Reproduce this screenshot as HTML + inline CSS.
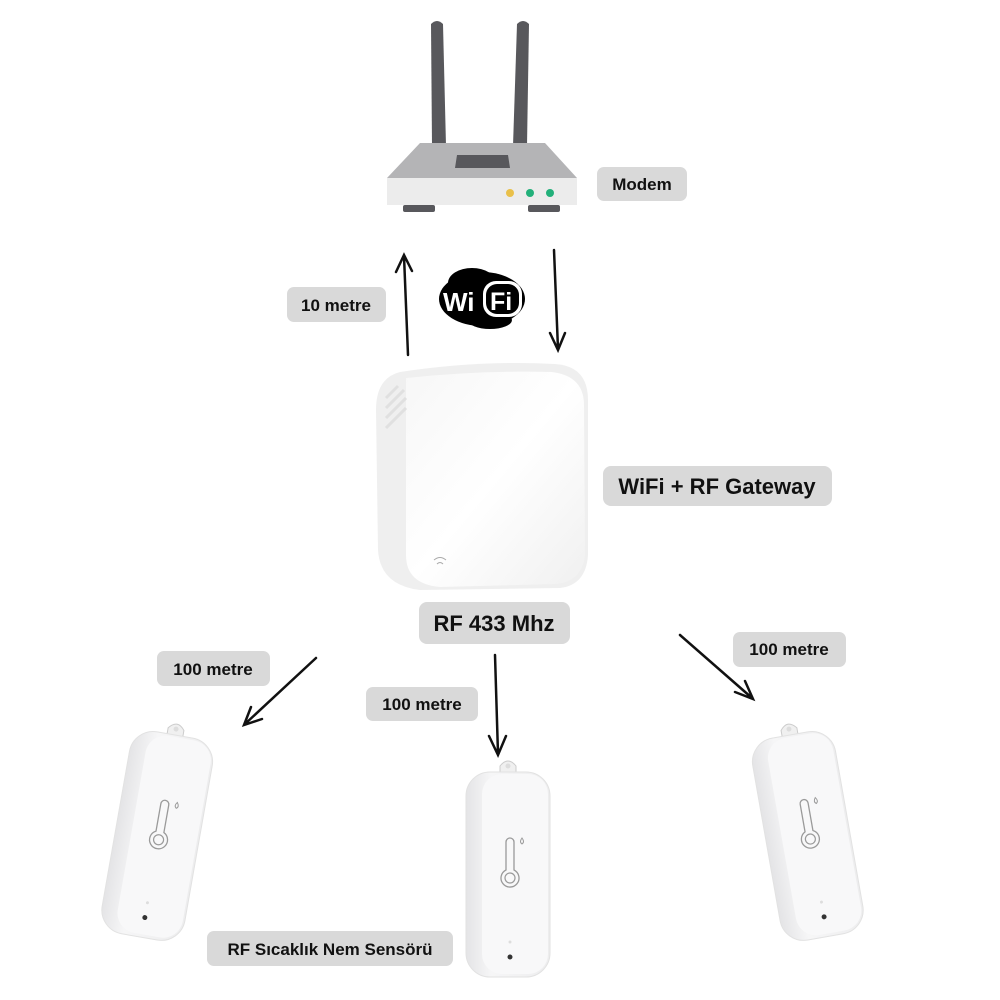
<!DOCTYPE html>
<html><head><meta charset="utf-8"><style>
body{margin:0;background:#fff;}
svg{display:block}
.lb{fill:#d9d9d9}
text{font-family:"Liberation Sans",sans-serif;font-weight:bold;fill:#111}
</style></head><body>
<svg width="1000" height="1000" viewBox="0 0 1000 1000" xmlns="http://www.w3.org/2000/svg">
<defs>
<linearGradient id="gw" x1="0" y1="0" x2="1" y2="1">
<stop offset="0" stop-color="#f7f7f7"/><stop offset="0.5" stop-color="#fff"/><stop offset="1" stop-color="#f0f0f0"/></linearGradient>
<linearGradient id="sd" x1="0" y1="0" x2="1" y2="0">
<stop offset="0" stop-color="#e4e4e6"/><stop offset="0.3" stop-color="#f6f6f7"/><stop offset="1" stop-color="#ededee"/></linearGradient>
<g id="sensor">
<path d="M-8,-6 Q0,-16 8,-6 L8,2 L-8,2Z" fill="#f0f0f0" stroke="#ccc" stroke-width="1"/>
<circle cx="0" cy="-6" r="2.5" fill="#ddd"/>
<rect x="-42" y="0" width="84" height="205" rx="24" fill="url(#sd)" stroke="#e2e2e2"/>
<rect x="-26" y="2" width="66" height="200" rx="20" fill="#f8f8f9"/>
<path d="M6,70 v28 a9,9 0 1 1 -8,0 v-28 a4,4 0 0 1 8,0z" fill="none" stroke="#9a9a9a" stroke-width="1.3"/>
<circle cx="2" cy="106" r="5" fill="none" stroke="#9a9a9a" stroke-width="1.2"/>
<path d="M14,66 q3,4 0,6 q-3,-2 0,-6z" fill="none" stroke="#9a9a9a" stroke-width="1"/>
<circle cx="2" cy="170" r="1.5" fill="#ddd"/>
<circle cx="2" cy="185" r="2.5" fill="#333"/>
</g>
</defs>

<!-- router -->
<path d="M431,24 Q437,18 443,24 L446,146 L432,146Z" fill="#58585c"/>
<path d="M517,24 Q523,18 529,24 L527,146 L513,146Z" fill="#58585c"/>
<path d="M420,143 L545,143 L577,178 L387,178Z" fill="#b4b4b6"/>
<path d="M457,155 L508,155 L510,168 L455,168Z" fill="#58585c"/>
<rect x="387" y="178" width="190" height="27" fill="#ececec"/>
<rect x="403" y="205" width="32" height="7" rx="2" fill="#58585c"/>
<rect x="528" y="205" width="32" height="7" rx="2" fill="#58585c"/>
<circle cx="510" cy="193" r="4" fill="#e9c04a"/>
<circle cx="530" cy="193" r="4" fill="#22b07a"/>
<circle cx="550" cy="193" r="4" fill="#22b07a"/>

<rect class="lb" x="597" y="167" width="90" height="34" rx="7"/>
<text x="642" y="190" font-size="17" text-anchor="middle">Modem</text>

<!-- wifi logo -->
<ellipse cx="482" cy="299" rx="43" ry="27" fill="#000"/>
<ellipse cx="472" cy="283" rx="24" ry="15" fill="#000"/>
<ellipse cx="490" cy="320" rx="22" ry="9" fill="#000"/>
<text x="443" y="311" font-size="26" style="fill:#fff;font-weight:900">Wi</text>
<rect x="483" y="281" width="39" height="36" rx="13" fill="#fff"/>
<rect x="486" y="284" width="33" height="30" rx="11" fill="#000"/>
<text x="490" y="310" font-size="25" style="fill:#fff">Fi</text>

<!-- arrows -->
<g stroke="#111" stroke-width="2.5" fill="none" stroke-linecap="round">
<path d="M408,355 L404,256 M396,272 L404,255 L412,271"/>
<path d="M554,250 L558,349 M550,333 L558,350 L565,333"/>
<path d="M316,658 L245,724 M251,707 L244,725 L262,719"/>
<path d="M495,655 L498,754 M489,736 L498,755 L506,736"/>
<path d="M680,635 L752,698 M735,692 L753,699 L745,681"/>
</g>

<rect class="lb" x="287" y="287" width="99" height="35" rx="7"/>
<text x="336" y="311" font-size="17" text-anchor="middle">10 metre</text>

<!-- gateway -->
<path d="M400,372 Q480,360 555,364 Q588,366 588,400 L588,555 Q586,585 560,588 L420,590 Q380,585 378,550 L376,410 Q376,378 400,372Z" fill="#efefef"/>
<path d="M406,378 Q480,370 552,372 Q584,376 584,405 L585,555 Q582,582 555,584 L440,587 Q406,584 406,555Z" fill="url(#gw)"/>
<g stroke="#e0e0e0" stroke-width="3">
<line x1="386" y1="398" x2="398" y2="386"/><line x1="386" y1="408" x2="404" y2="390"/><line x1="386" y1="418" x2="406" y2="398"/><line x1="386" y1="428" x2="406" y2="408"/>
</g>
<path d="M434,560 q6,-5 12,0 M437,564 q3,-3 6,0" stroke="#aaa" fill="none" stroke-width="1"/>

<rect class="lb" x="603" y="466" width="229" height="40" rx="8"/>
<text x="717" y="494" font-size="22" text-anchor="middle">WiFi + RF Gateway</text>
<rect class="lb" x="419" y="602" width="151" height="42" rx="8"/>
<text x="494" y="631" font-size="22" text-anchor="middle">RF 433 Mhz</text>

<rect class="lb" x="157" y="651" width="113" height="35" rx="7"/>
<text x="213" y="675" font-size="17" text-anchor="middle">100 metre</text>
<rect class="lb" x="366" y="687" width="112" height="34" rx="7"/>
<text x="422" y="710" font-size="17" text-anchor="middle">100 metre</text>
<rect class="lb" x="733" y="632" width="113" height="35" rx="7"/>
<text x="789" y="655" font-size="17" text-anchor="middle">100 metre</text>

<use href="#sensor" transform="translate(175,735) rotate(10)"/>
<use href="#sensor" transform="translate(508,772)"/>
<use href="#sensor" transform="translate(790,735) rotate(-10)"/>

<rect class="lb" x="207" y="931" width="246" height="35" rx="7"/>
<text x="330" y="955" font-size="17" text-anchor="middle">RF Sıcaklık Nem Sensörü</text>
</svg>
</body></html>
